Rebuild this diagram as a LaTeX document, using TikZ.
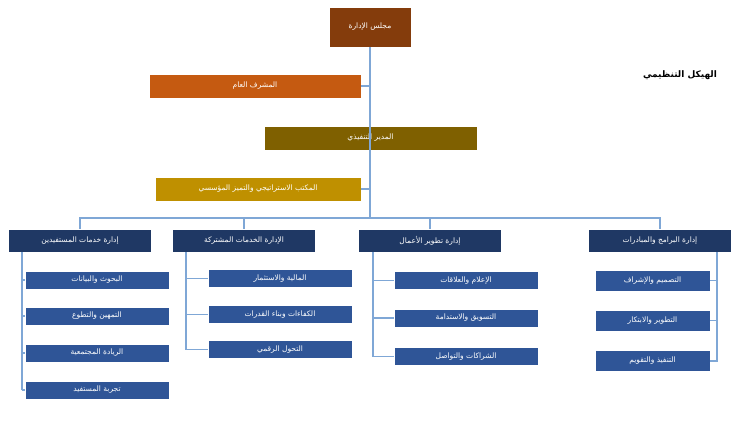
\documentclass[tikz,border=0pt]{standalone}
\usepackage{fontspec}
\newfontfamily\arabicfont[Script=Arabic]{DejaVu Sans}
\TeXXeTstate=1
\definecolor{board}{HTML}{843C0C}
\definecolor{super}{HTML}{C55A11}
\definecolor{exec}{HTML}{7F6000}
\definecolor{office}{HTML}{BF9000}
\definecolor{dept}{HTML}{1F3864}
\definecolor{unit}{HTML}{2F5597}
\definecolor{link}{HTML}{7FA7D6}

\tikzstyle{box}=[
  draw=white,
  thin,
  text=white,
  inner sep=0pt,
  font=\arabicfont\fontsize{7.5}{9}\selectfont,
]
\tikzstyle{box_dept}=[
  box,
  fill=dept,
  minimum width=143pt,
  minimum height=23pt,
]
\tikzstyle{box_unit}=[
  box,
  fill=unit,
  minimum width=144pt,
  minimum height=18pt,
]
\tikzstyle{link}=[
  draw,
  line width=1.2pt,
  color=link
]

\begin{document}
\begin{tikzpicture}[x=1pt,y=-1pt]
\useasboundingbox (0,0) rectangle (750,437);
\node [box, fill=board, minimum width=82pt, minimum height=40pt] (board) at (370,27) {\beginR مجلس الإدارة\endR};
\node [box, fill=super, minimum width=212pt, minimum height=24pt] (super) at (255,86) {\beginR المشرف العام\endR};
\node [box, fill=exec, minimum width=213pt, minimum height=24pt] (exec) at (370.5,138) {\beginR المدير التنفيذي\endR};
\node [box, fill=office, minimum width=206pt, minimum height=24pt] (office) at (258,189) {\beginR المكتب الاستراتيجي والتميز المؤسسي\endR};
\node [font=\arabicfont\bfseries\fontsize{9}{11}\selectfont] (title) at (680,75) {\beginR الهيكل التنظيمي\endR};

% departments
\node [box_dept] (d1) at (80,240.5) {\beginR إدارة خدمات المستفيدين\endR};
\node [box_dept] (d2) at (244,240.5) {\beginR الإدارة الخدمات المشتركة\endR};
\node [box_dept] (d3) at (430,240.5) {\beginR إدارة تطوير الأعمال\endR};
\node [box_dept] (d4) at (660,240.5) {\beginR إدارة البرامج والمبادرات\endR};

% units
\node [box_unit] (u11) at (97,280) {\beginR البحوث والبيانات\endR};
\node [box_unit] (u12) at (97,316) {\beginR التمهين والتطوع\endR};
\node [box_unit] (u13) at (97,353) {\beginR الريادة المجتمعية\endR};
\node [box_unit] (u14) at (97,390) {\beginR تجربة المستفيد\endR};
\node [box_unit] (u21) at (280,278.5) {\beginR المالية والاستثمار\endR};
\node [box_unit] (u22) at (280,314.5) {\beginR الكفاءات وبناء القدرات\endR};
\node [box_unit] (u23) at (280,349.5) {\beginR التحول الرقمي\endR};
\node [box_unit] (u31) at (466,280.5) {\beginR الإعلام والعلاقات\endR};
\node [box_unit] (u32) at (466,318) {\beginR التسويق والاستدامة\endR};
\node [box_unit] (u33) at (466,356.5) {\beginR الشراكات والتواصل\endR};
\node [box_unit, minimum width=115pt, minimum height=21pt] (u41) at (652.5,280.5) {\beginR التصميم والإشراف\endR};
\node [box_unit, minimum width=115pt, minimum height=21pt] (u42) at (652.5,320.5) {\beginR التطوير والابتكار\endR};
\node [box_unit, minimum width=115pt, minimum height=21pt] (u43) at (652.5,361) {\beginR التنفيذ والتقويم\endR};

\coordinate (join) at (370,218);
\path [link] (board.south) -- (join);
\path [link] (super.east) -- (super.east -| board.south);
\path [link] (office.east) -- (office.east -| board.south);
\path [link] (d1.north) |- (join) -| (d4.north);
\path [link] (d2.north) |- (join) -| (d3.north);

\foreach \u in {u11,u12,u13,u14} {
  \path [link] (u14.west -| 22,0) |- (\u.west);
}
\path [link] (d1.south -| 22,0) -- (u14.west -| 22,0);
\foreach \u in {u21,u22,u23} {
  \path [link] (d2.south -| 186,0) |- (\u.west);
}
\foreach \u in {u31,u32,u33} {
  \path [link] (d3.south -| 373,0) |- (\u.west);
}
\foreach \u in {u41,u42,u43} {
  \path [link] (d4.south -| 717,0) |- (\u.east);
}
\end{tikzpicture}
\end{document}
